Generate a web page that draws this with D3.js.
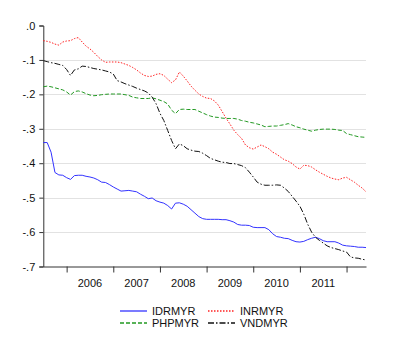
<!DOCTYPE html>
<html><head><meta charset="utf-8">
<script src="https://cdn.jsdelivr.net/npm/d3@7"></script>
<style>body{margin:0;background:#fff}svg{display:block}text{font-family:"Liberation Sans",Arial,sans-serif;fill:#111}</style>
</head><body><div id="chart"></div>
<script>
// monthly observations, 2005M07 .. 2012M06
const startYear = 2005.5;
const yearTicks = [2006, 2007, 2008, 2009, 2010, 2011, 2012];
const yearLabels = ["2006", "2007", "2008", "2009", "2010", "2011"];
const yTicks = [0, -0.1, -0.2, -0.3, -0.4, -0.5, -0.6, -0.7];
const yTickLabels = [".0", "-.1", "-.2", "-.3", "-.4", "-.5", "-.6", "-.7"];
const seriesNames = ["IDRMYR", "INRMYR", "PHPMYR", "VNDMYR"];

const IDRMYR = [-0.340,-0.340,-0.368,-0.427,-0.434,-0.435,-0.442,-0.447,-0.436,-0.435,-0.435,-0.438,
-0.440,-0.443,-0.448,-0.455,-0.456,-0.462,-0.469,-0.475,-0.481,-0.480,-0.479,-0.481,
-0.483,-0.490,-0.496,-0.503,-0.501,-0.509,-0.513,-0.516,-0.523,-0.533,-0.516,-0.515,
-0.519,-0.525,-0.535,-0.545,-0.555,-0.561,-0.563,-0.563,-0.563,-0.563,-0.564,-0.564,
-0.567,-0.571,-0.578,-0.580,-0.580,-0.581,-0.586,-0.587,-0.587,-0.587,-0.593,-0.605,
-0.613,-0.615,-0.618,-0.619,-0.624,-0.628,-0.629,-0.627,-0.622,-0.618,-0.615,-0.619,
-0.625,-0.628,-0.628,-0.628,-0.632,-0.638,-0.640,-0.641,-0.642,-0.644,-0.644,-0.645];

const INRMYR = [-0.044,-0.046,-0.049,-0.054,-0.057,-0.048,-0.045,-0.044,-0.038,-0.035,-0.048,-0.060,
-0.068,-0.078,-0.090,-0.100,-0.107,-0.106,-0.106,-0.106,-0.108,-0.112,-0.116,-0.122,
-0.129,-0.138,-0.145,-0.148,-0.147,-0.142,-0.140,-0.145,-0.156,-0.166,-0.158,-0.135,
-0.147,-0.161,-0.176,-0.188,-0.199,-0.206,-0.211,-0.212,-0.219,-0.231,-0.250,-0.269,
-0.286,-0.304,-0.317,-0.328,-0.347,-0.355,-0.359,-0.353,-0.347,-0.352,-0.358,-0.368,
-0.374,-0.382,-0.390,-0.394,-0.401,-0.411,-0.417,-0.406,-0.407,-0.411,-0.419,-0.426,
-0.432,-0.438,-0.443,-0.446,-0.448,-0.443,-0.441,-0.448,-0.455,-0.464,-0.472,-0.483];

const PHPMYR = [-0.178,-0.176,-0.178,-0.181,-0.184,-0.187,-0.193,-0.202,-0.192,-0.190,-0.193,-0.198,
-0.202,-0.204,-0.203,-0.201,-0.200,-0.199,-0.199,-0.199,-0.199,-0.201,-0.203,-0.208,
-0.210,-0.212,-0.212,-0.212,-0.210,-0.213,-0.217,-0.221,-0.228,-0.246,-0.256,-0.244,
-0.243,-0.244,-0.244,-0.244,-0.249,-0.254,-0.259,-0.263,-0.266,-0.267,-0.269,-0.270,
-0.270,-0.270,-0.272,-0.276,-0.278,-0.281,-0.283,-0.286,-0.289,-0.294,-0.293,-0.292,
-0.292,-0.290,-0.288,-0.285,-0.289,-0.294,-0.297,-0.301,-0.304,-0.307,-0.304,-0.302,
-0.301,-0.301,-0.301,-0.302,-0.304,-0.305,-0.314,-0.317,-0.320,-0.323,-0.324,-0.325];

const VNDMYR = [-0.102,-0.105,-0.108,-0.110,-0.113,-0.116,-0.128,-0.145,-0.129,-0.126,-0.118,-0.119,
-0.122,-0.125,-0.127,-0.129,-0.132,-0.135,-0.141,-0.160,-0.164,-0.169,-0.173,-0.177,
-0.182,-0.186,-0.190,-0.196,-0.208,-0.227,-0.255,-0.276,-0.305,-0.334,-0.358,-0.344,
-0.349,-0.358,-0.362,-0.365,-0.366,-0.371,-0.378,-0.386,-0.390,-0.394,-0.397,-0.398,
-0.401,-0.401,-0.404,-0.407,-0.413,-0.426,-0.440,-0.455,-0.461,-0.464,-0.464,-0.464,
-0.463,-0.464,-0.472,-0.482,-0.496,-0.510,-0.525,-0.548,-0.577,-0.600,-0.615,-0.624,
-0.632,-0.640,-0.645,-0.648,-0.651,-0.655,-0.658,-0.672,-0.675,-0.676,-0.679,-0.681];

const seriesValues = [IDRMYR, INRMYR, PHPMYR, VNDMYR];
const seriesColors = ["#3333ff", "#ff2222", "#229922", "#111111"];
const seriesDash = [null, "1.5,1.5", "4,2", "6,2,1.5,2"];

(function () {
const W = 400, H = 356;
const mLeft = 43.3, mRight = 366, mTop = 25.5, mBottom = 266.5;
const FS = 11;

const svg = d3.select("#chart").append("svg").attr("width", W).attr("height", H);
const n = IDRMYR.length;
const x = d3.scaleLinear().domain([startYear, startYear + (n - 1) / 12]).range([mLeft, mRight]);
const y = d3.scaleLinear().domain([0, -0.7]).range([mTop, mBottom]);

// gridlines
svg.append("g").selectAll("line").data(yTicks.filter(t => t < 0 && t > -0.7)).join("line")
  .attr("x1", mLeft).attr("x2", mRight)
  .attr("y1", d => Math.round(y(d)) + 0.5).attr("y2", d => Math.round(y(d)) + 0.5)
  .attr("stroke", "#e2e2e2").attr("stroke-width", 1);

// y axis
const yAxis = d3.axisLeft(y).tickValues(yTicks).tickFormat((d, i) => yTickLabels[i]).tickSize(4).tickPadding(4);
const gy = svg.append("g").attr("transform", `translate(${mLeft},0)`).call(yAxis);
gy.select(".domain").attr("stroke", "#333");
gy.selectAll(".tick line").attr("stroke", "#333");
gy.selectAll("text").attr("font-size", FS).attr("font-family", "Liberation Sans, Arial, sans-serif").attr("fill", "#111");

// x axis
const xAxis = d3.axisBottom(x).tickValues(yearTicks).tickFormat("").tickSize(6).tickSizeOuter(0);
const gx = svg.append("g").attr("transform", `translate(0,${mBottom})`).call(xAxis);
gx.select(".domain").attr("stroke", "#333");
gx.selectAll(".tick line").attr("stroke", "#333");
svg.append("g").selectAll("text").data(yearLabels).join("text")
  .attr("x", d => x(+d + 0.5)).attr("y", 286.5)
  .attr("text-anchor", "middle").attr("font-size", FS).text(d => d);

// lines
const line = d3.line().x((d, i) => x(startYear + i / 12)).y(d => y(d));
seriesValues.forEach((vals, k) => {
  svg.append("path").datum(vals).attr("d", line)
    .attr("fill", "none").attr("stroke", seriesColors[k]).attr("stroke-width", 1)
    .attr("stroke-dasharray", seriesDash[k]);
});

// legend
const legPos = [[120, 311], [208, 311], [120, 323], [208, 323]];
seriesNames.forEach((name, k) => {
  const [lx, ly] = legPos[k];
  svg.append("path").attr("d", `M${lx},${ly}H${lx + 27}`)
    .attr("fill", "none").attr("stroke", seriesColors[k]).attr("stroke-width", 1.3)
    .attr("stroke-dasharray", seriesDash[k]);
  svg.append("text").attr("x", lx + 32).attr("y", ly + 4).attr("font-size", FS).text(name);
});
})();
</script></body></html>
